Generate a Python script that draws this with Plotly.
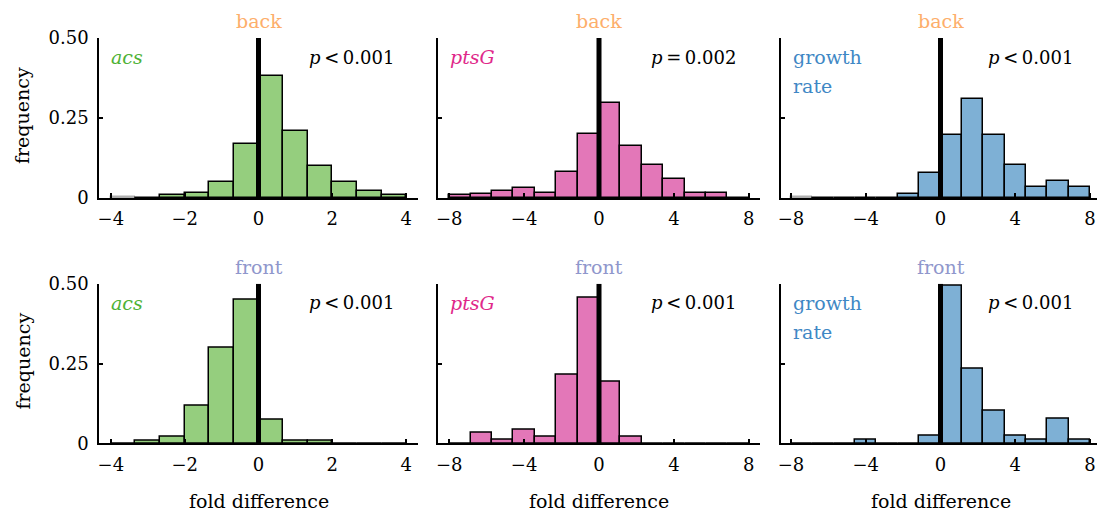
import numpy as np
import plotly.graph_objects as go

W, H = 1097, 515

# ---- data (frequencies) ----
acs_edges_lo, acs_edges_hi, acs_nbins = -4.0, 4.0, 12
pts_edges_lo, pts_edges_hi, pts_nbins = -8.0, 8.0, 14

acs_back   = [0.003, 0.0, 0.010, 0.017, 0.050, 0.168, 0.381, 0.210, 0.100, 0.050, 0.023, 0.009]
acs_front  = [0.0, 0.009, 0.020, 0.118, 0.300, 0.450, 0.074, 0.008, 0.008, 0.0, 0.0, 0.0]
pts_back   = [0.010, 0.011, 0.023, 0.030, 0.017, 0.080, 0.200, 0.298, 0.164, 0.102, 0.058, 0.017, 0.017, 0.0]
pts_front  = [0.0, 0.032, 0.010, 0.042, 0.021, 0.216, 0.456, 0.194, 0.021, 0.0, 0.0, 0.0, 0.0, 0.0]
gr_back    = [0.003, 0.0, 0.0, 0.0, 0.0, 0.011, 0.078, 0.196, 0.308, 0.196, 0.104, 0.034, 0.053, 0.035]
gr_front   = [0.0, 0.0, 0.0, 0.0125, 0.0, 0.0, 0.025, 0.493, 0.234, 0.103, 0.025, 0.010, 0.077, 0.011]

p_labels = [["p < 0.001", "p = 0.002", "p < 0.001"],
            ["p < 0.001", "p < 0.001", "p < 0.001"]]
row_titles = ["back", "front"]
gene_labels = [["<i>acs</i>"], ["<i>ptsG</i>"], ["growth", "rate"]]
y_ticks = [0, 0.25, 0.5]
y_ticktext = ["0", "0.25", "0.50"]
x_ticks_acs = [-4, -2, 0, 2, 4]
x_ticks_wide = [-8, -4, 0, 4, 8]

# ---- styles ----
FONT = "DejaVu Serif"
FS_TICK = 18
FS_TXT = 19
fills = ["#95ce7e", "#e377b8", "#7eb0d5"]
text_cols = ["#4fb236", "#e0288a", "#3f88c5"]
row_title_cols = ["#fdae6b", "#8f97cc"]

def centers(lo, hi, n):
    e = np.linspace(lo, hi, n + 1)
    return (e[:-1] + e[1:]) / 2, (hi - lo) / n

# panel geometry in pixels (left, right) and (top, bottom)
col_px = [(99, 418), (438, 760), (781, 1097)]
row_px = [(38, 198), (283.7, 443.3)]
x_ranges = [[-4.32, 4.32], [-8.6, 8.6], [-8.53, 8.37]]

data = [[acs_back, pts_back, gr_back], [acs_front, pts_front, gr_front]]

fig = go.Figure()
layout = dict(width=W, height=H, margin=dict(l=0, r=0, t=0, b=0, pad=0, autoexpand=False),
              plot_bgcolor="white", paper_bgcolor="white", showlegend=False,
              bargap=0, font=dict(family=FONT, size=FS_TICK, color="black"))
annotations = []
shapes = []

k = 0
for r in range(2):
    for c in range(3):
        k += 1
        xa = "x" if k == 1 else f"x{k}"
        ya = "y" if k == 1 else f"y{k}"
        if c == 0:
            xc, w = centers(acs_edges_lo, acs_edges_hi, acs_nbins)
            xt = x_ticks_acs
        else:
            xc, w = centers(pts_edges_lo, pts_edges_hi, pts_nbins)
            xt = x_ticks_wide
        vals = data[r][c]
        edge_cols = ["#b0b0b0" if 0 < v < 0.005 else "black" for v in vals]
        fig.add_trace(go.Bar(x=xc, y=vals, width=w, xaxis=xa, yaxis=ya,
                             marker=dict(color=fills[c], line=dict(color=edge_cols, width=1.5))))
        l, rr = col_px[c]
        t, b = row_px[r]
        layout["xaxis" if k == 1 else f"xaxis{k}"] = dict(
            domain=[l / W, rr / W], range=x_ranges[c], anchor=ya, automargin=False,
            showline=True, linecolor="black", linewidth=1.6, showgrid=False, zeroline=False,
            ticks="inside", ticklen=5, tickwidth=1.5, tickcolor="black",
            tickvals=xt, ticktext=[("\u2212" + str(-v)) if v < 0 else str(v) for v in xt],
            ticklabelstandoff=4, tickfont=dict(size=FS_TICK, family=FONT))
        layout["yaxis" if k == 1 else f"yaxis{k}"] = dict(
            domain=[1 - b / H, 1 - t / H], range=[0, 0.5], anchor=xa, automargin=False,
            showline=True, linecolor="black", linewidth=1.6, showgrid=False, zeroline=False,
            ticks="inside", ticklen=4, tickwidth=1.5, tickcolor="black",
            tickvals=y_ticks, ticktext=y_ticktext, showticklabels=(c == 0),
            ticklabelstandoff=5, tickfont=dict(size=FS_TICK, family=FONT))
        # vertical line at zero
        shapes.append(dict(type="line", xref=xa, yref=ya, x0=0, x1=0, y0=0, y1=0.5,
                           line=dict(color="black", width=5), layer="above"))
        # row title above panel
        annotations.append(dict(xref=xa, yref="paper", x=0, y=1 - (t - 17) / H,
                                text=row_titles[r], showarrow=False,
                                font=dict(color=row_title_cols[r], size=FS_TXT, family=FONT),
                                xanchor="center", yanchor="middle"))
        # gene label (one annotation per line)
        for i, line in enumerate(gene_labels[c]):
            annotations.append(dict(xref="paper", yref="paper", x=(l + 10) / W,
                                    y=1 - (t + 19 + 29 * i) / H,
                                    text=line, showarrow=False, align="left",
                                    font=dict(color=text_cols[c], size=FS_TXT, family=FONT),
                                    xanchor="left", yanchor="middle"))
        # p value
        pl = p_labels[r][c]
        pl_html = "<i>p</i>\u2009" + pl[2:].replace("<", "&lt;").replace(" ", "\u2009")
        annotations.append(dict(xref="paper", yref="paper", x=(rr - 22) / W, y=1 - (t + 19) / H,
                                text=pl_html, showarrow=False,
                                font=dict(color="black", size=18, family=FONT),
                                xanchor="right", yanchor="middle"))
        # x title on bottom row
        if r == 1:
            annotations.append(dict(xref=xa, yref="paper", x=0, y=1 - 501 / H,
                                    text="fold difference", showarrow=False,
                                    font=dict(size=FS_TXT, family=FONT), xanchor="center", yanchor="middle"))
    # y title
    t, b = row_px[r]
    annotations.append(dict(xref="paper", yref="paper", x=22 / W, y=1 - ((t + b) / 2 - 2) / H,
                            text="frequency", showarrow=False, textangle=-90,
                            font=dict(size=FS_TXT, family=FONT), xanchor="center", yanchor="middle"))

layout["annotations"] = annotations
layout["shapes"] = shapes
fig.update_layout(**layout)
fig.write_html("out.html")
